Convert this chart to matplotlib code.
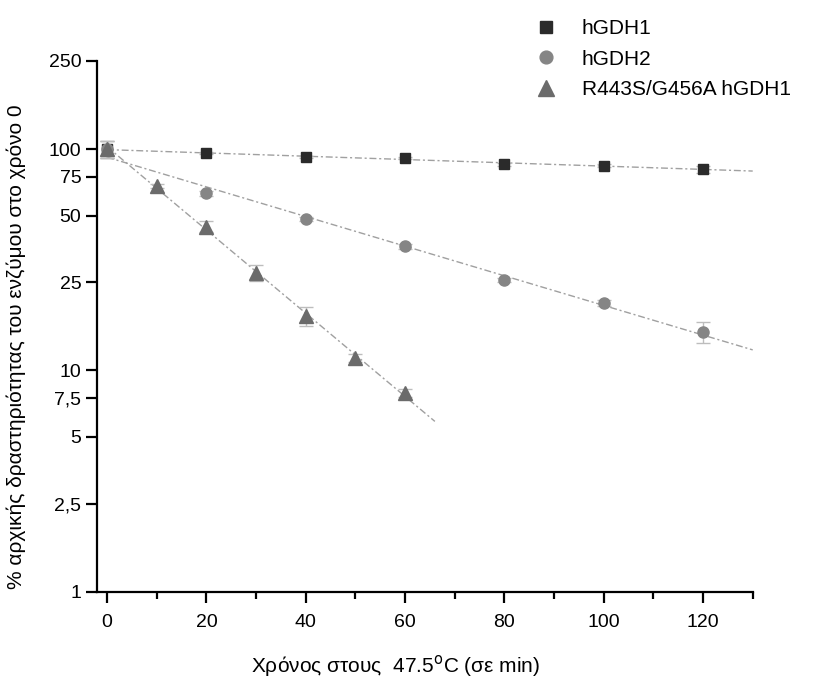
import numpy as np
import matplotlib
matplotlib.use("Agg")
import matplotlib.pyplot as plt
from matplotlib.lines import Line2D

plt.rcParams["font.family"] = ["Liberation Sans", "DejaVu Sans"]

# times (min) and % of initial activity
t_wt = [0, 20, 40, 60, 80, 100, 120]
hgdh1 = [100, 95.6, 92.3, 90.8, 85.3, 84.1, 81.2]
hgdh1_err = [9, 1.0, 1.0, 1.0, 1.2, 1.5, 3.0]

hgdh2 = [100, 63.1, 48.3, 36.3, 25.6, 20.1, 14.9]
hgdh2_err = [9, 1.5, 0.8, 0.8, 0.6, 0.6, 1.6]

t_mut = [0, 10, 20, 30, 40, 50, 60]
mut = [100, 68.2, 44.6, 27.6, 17.6, 11.4, 7.9]
mut_err = [9, 1.5, 2.5, 2.3, 1.8, 0.5, 0.3]

fit_end = [130, 130, 66]

yticks = [1, 2.5, 5, 7.5, 10, 25, 50, 75, 100, 250]
ytick_labels = ["1", "2,5", "5", "7,5", "10", "25", "50", "75", "100", "250"]

fig = plt.figure(figsize=(8.32, 6.86), dpi=100)
ax = fig.add_axes([0.1162, 0.1375, 0.7885, 0.7736])

series = [
    (t_wt, hgdh1, hgdh1_err, "s", "#2b2b2b", 7.5, "hGDH1"),
    (t_wt, hgdh2, hgdh2_err, "o", "#858585", 8, "hGDH2"),
    (t_mut, mut, mut_err, "^", "#6b6b6b", 9.5, "R443S/G456A hGDH1"),
]

handles = []
for (x, y, e, m, c, ms, lab), xe in zip(series, fit_end):
    x = np.array(x, float)
    y = np.array(y, float)
    # log-linear fit (first order decay)
    k, b = np.polyfit(x, np.log10(y), 1)
    xf = np.array([0, xe])
    ax.plot(xf, 10 ** (b + k * xf), color="#a0a0a0", lw=1.0,
            ls=(0, (5, 2, 1.5, 2)), zorder=1)
    ax.errorbar(x, y, yerr=e, fmt="none", ecolor="#bdbdbd", elinewidth=1,
                capsize=5, capthick=1, zorder=2)
    ax.plot(x, y, ls="none", marker=m, ms=ms, color=c, mec=c, zorder=3)
    handles.append(Line2D([], [], ls="none", marker=m, ms=ms * 1.15, color=c,
                          mec=c, label=lab))

ax.set_yscale("log")
ax.set_ylim(1, 250)
ax.set_xlim(-2.1, 130)
ax.set_yticks(yticks)
ax.set_yticklabels(ytick_labels)
ax.yaxis.set_minor_locator(matplotlib.ticker.NullLocator())
ax.set_xticks(range(0, 121, 20))
ax.set_xticks(range(10, 131, 20), minor=True)

for s in ["top", "right"]:
    ax.spines[s].set_visible(False)
for s in ["left", "bottom"]:
    ax.spines[s].set_linewidth(1.6)

ax.tick_params(axis="both", which="major", length=8, width=1.6,
               labelsize=14, pad=3, color="black")
ax.tick_params(axis="x", which="minor", length=5, width=1.6)
ax.tick_params(axis="x", which="major", pad=8)

ax.set_xlabel("Χρόνος στους  47.5$^{\\rm o}$C (σε min)", fontsize=15)
ax.xaxis.set_label_coords(0.456, -0.115)
ax.set_ylabel("% αρχικής δραστηριότητας του ενζύμου στο χρόνο 0", fontsize=15)
ax.yaxis.set_label_coords(-0.107, 0.461)

fig.legend(handles=handles, loc="upper left", bbox_to_anchor=(537 / 832, 0.972),
           frameon=False, fontsize=15, handlelength=0.9, handletextpad=1.25,
           labelspacing=0.55, borderpad=0, borderaxespad=0)

fig.savefig("out.png", dpi=100)
